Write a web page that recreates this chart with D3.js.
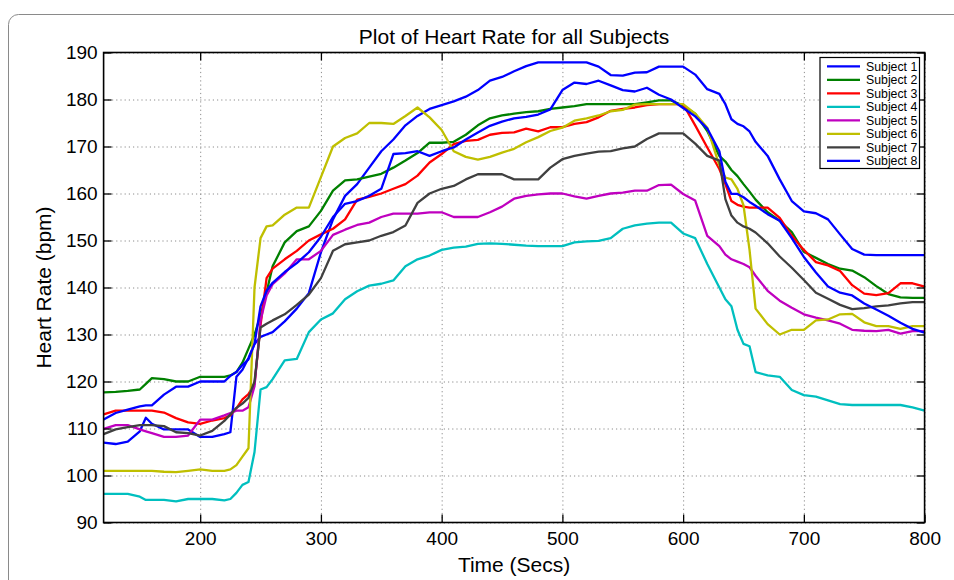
<!DOCTYPE html>
<html><head><meta charset="utf-8">
<script src="https://cdn.jsdelivr.net/npm/d3@7"></script>
<style>
body{margin:0;background:#fff}
svg{display:block}
text{font-family:"Liberation Sans",Arial,Helvetica,sans-serif;fill:#000}
</style>
</head><body>
<svg id="chart" width="954" height="580"></svg>
<script>
// ---- data (time in seconds, heart rate in bpm) ----
const times = [120,130,140,150,155,160,170,180,190,200,210,220,225,230,235,240,245,250,255,260,
  270,280,290,300,310,320,330,340,350,360,370,380,390,400,410,420,430,440,450,460,
  470,480,490,500,510,520,530,540,550,560,570,580,590,600,610,620,630,635,640,645,650,655,660,
  670,680,690,700,710,720,730,740,750,760,770,780,790,800];

const subject1 = [107,106.7,107.2,109.4,112.3,111, 109.8,109.8,109.8,108.2,108.2,108.8,
  109.2,121,122.5,125,128,129.5,130,130.5,
  132.8,135.5,138.8,147.5,154.5,159.5,162,165.5,169,171.5,
  174.5,176.5,178,178.8,179.6,180.6,182,184,184.8,186,
  187.1,187.9,187.9,187.9,187.9,187.9,187,185.2,185.1,185.7,
  185.8,187,187,187,185.3,182.2,181.2,
  179,175.8,174.8,174.3,173.2,171,
  168,163,158.4,156.2,155.8,154.5,151.3,148.2,147,146.9,
  146.9,146.9,146.9,146.9];

const subject2 = [117.7,117.8,118,118.3,119.5,120.7, 120.5,120,120,121,121,121,
  121.3,122,124,127,130,134,139,144.5,
  149.6,152,153,156.3,160.6,162.8,163,163.6,164.2,165.5,
  167,168.6,170.8,170.8,171,172.5,174.5,176,176.6,177,
  177.3,177.5,178,178.3,178.6,179,179,179,179,179,
  179.4,179.8,179.8,178.7,177,173.3,168,
  166.8,165,163.7,162,160.4,158.7,
  156,154.2,151.8,147.6,146.3,145,144,143.6,142.2,140.3,
  138.6,137.9,137.8,137.8];

const subject3 = [113,113.8,113.8,113.8,113.8,113.8, 113.4,112.2,111.3,111,111.7,112.2,
  112.8,114.3,116.2,117.3,119.5,132,142,144,
  146,147.8,150,151.3,152.5,154.5,158.7,159.3,160,161,
  162,163.8,166.6,168.4,170.5,171.2,171.4,172.5,172.9,173,
  173.8,173.2,174.1,174.1,174.8,175.2,176.2,177.6,178,178.3,
  178.8,179,179,179,174.5,169.8,165.2,
  162,158.4,157.6,157.2,157,157,
  157,154.8,151,148,145.4,144.7,143.5,140.5,138.7,138.4,
  138.8,140.9,140.9,140.2];

const subject4 = [96.1,96.1,96.1,95.5,94.8,94.8, 94.8,94.5,95,95,95,94.7,
  95,96.3,98,98.6,105,118.3,118.8,120.5,
  124.5,124.8,130.5,133.2,134.5,137.5,139.2,140.4,140.8,141.5,
  144.5,146,146.8,148,148.5,148.7,149.3,149.4,149.3,149.1,
  148.9,148.8,148.8,148.8,149.6,149.8,149.9,150.5,152.5,153.2,
  153.6,153.8,153.8,151.5,150.5,145,140,
  137.5,136,131,128,127.5,122,
  121.3,121,118.2,117.1,116.8,116,115.2,115,115,115,
  115,115,114.5,113.8];

const subject5 = [109.9,110.7,110.7,109.8,109.4,109, 108.2,108.2,108.5,111.9,111.9,112.8,
  113.3,113.8,113.8,114.5,119,133,138.3,140.7,
  143,146,146,147.8,151.2,152.3,153.3,153.8,155,155.7,
  155.7,155.7,156,156,155,155,155,156,157.2,158.9,
  159.5,159.8,160,160,159.4,158.9,159.5,160,160.2,160.6,
  160.6,161.8,161.9,159.9,158.5,151,148.8,
  147,146,145.5,145,144.3,142.5,
  139.3,137.2,135.7,134.3,133.6,133,132.3,131,130.8,130.7,
  131,130.2,130.7,130.7];

const subject6 = [101,101,101,101,101,101, 100.8,100.7,101,101.3,101,101,
  101.3,102.2,104,105.8,140,150.5,153,153.2,
  155.5,157,157,163.5,170,171.8,172.8,175,175,174.8,
  176.5,178.3,176.2,173.5,169,167.8,167.2,167.8,168.7,169.5,
  170.9,172,173.3,174,175.5,176,176.6,177.5,177.8,178.9,
  179,179,179,179,177,174,166,
  163.4,163,161,157.5,148,135.5,
  132.2,130,131,131,133,133.2,134.3,134.4,132.6,131.8,
  131.8,131.2,131.8,131.8];

const subject7 = [108.8,109.8,110.3,110.7,110.7,110.7, 110.5,109.2,109,108.5,109.5,111.6,
  113,114.4,115.3,116.5,120,131.5,132.3,133,
  134.3,136.3,138.5,142,147.8,149.2,149.6,150,151,151.8,
  153.2,158,160,161,161.6,163,164.1,164.1,164.1,163,
  163,163,165.5,167.3,168,168.5,168.9,169,169.6,170,
  171.6,172.8,172.8,172.8,170.6,168,167,
  158.8,155.3,153.8,153,152.5,151.7,
  149.4,146.6,144.2,141.6,138.9,137.6,136.3,135.4,135.6,136,
  136.2,136.6,136.9,136.9];

const subject8 = [111.9,113.3,114,114.7,114.9,114.9, 117.2,118.9,118.9,120,120,120,
  121.2,122,123.5,124.7,128,136,139.3,141,
  143.3,145.2,147.5,150.8,155,157.8,158.4,159.5,161,168.4,
  168.6,169,168,169,169.8,171.5,173,174.4,175.3,176,
  176.3,176.8,177.9,182,183.6,183.3,184,183,182,181.7,
  182.5,181,180,178.2,176.4,173.8,169,
  162.5,159.9,159.9,159.2,158.2,157.4,
  155.6,154.2,150.5,146.5,143.2,140.2,138.9,138.3,136.6,135.3,
  134,132.5,131.2,130.4];

const subjectNames = ["Subject 1","Subject 2","Subject 3","Subject 4","Subject 5","Subject 6","Subject 7","Subject 8"];
const subjectColors = ["#0000ff","#008000","#ff0000","#00bfbf","#bf00bf","#bfbf00","#404040","#0000ff"];
const xTicks = [200,300,400,500,600,700,800];
const yTicks = [90,100,110,120,130,140,150,160,170,180,190];
const titleText = "Plot of Heart Rate for all Subjects";
const xLabel = "Time (Secs)";
const yLabel = "Heart Rate (bpm)";

const seriesValues = [subject1,subject2,subject3,subject4,subject5,subject6,subject7,subject8];

// ---- layout ----
const L = 103.6, R = 924.6, T = 52.5, B = 522.5;
const svg = d3.select("#chart");

// outer frame (rounded panel)
svg.append("rect").attr("x",8.5).attr("y",14.5).attr("width",1000).attr("height",1000)
  .attr("rx",10).attr("fill","none").attr("stroke","#8a8a8a").attr("stroke-width",1);

const x = d3.scaleLinear().domain([120,800]).range([L,R]);
const y = d3.scaleLinear().domain([90,190]).range([B,T]);

// grid
const grid = svg.append("g");
grid.append("g").attr("transform",`translate(0,${B})`)
  .call(d3.axisBottom(x).tickValues(xTicks).tickSize(-(B-T)).tickFormat(""))
  .call(g=>{g.select(".domain").remove();
    g.selectAll("line").attr("stroke","#8c8c8c").attr("stroke-width",1).attr("stroke-dasharray","1.2,3");});
grid.append("g").attr("transform",`translate(${L},0)`)
  .call(d3.axisLeft(y).tickValues(yTicks).tickSize(-(R-L)).tickFormat(""))
  .call(g=>{g.select(".domain").remove();
    g.selectAll("line").attr("stroke","#8c8c8c").attr("stroke-width",1).attr("stroke-dasharray","1.2,3");});

// clip
svg.append("clipPath").attr("id","plotclip").append("rect")
  .attr("x",L).attr("y",T).attr("width",R-L).attr("height",B-T);

// lines
const line = d3.line().x((d,i)=>x(times[i])).y(d=>y(d));
const linesG = svg.append("g").attr("clip-path","url(#plotclip)");
seriesValues.forEach((vals,k)=>{
  linesG.append("path").datum(vals).attr("d",line)
    .attr("fill","none").attr("stroke",subjectColors[k]).attr("stroke-width",2.3)
    .attr("stroke-linejoin","round").attr("stroke-linecap","round");
});

// axes with inward ticks
const tickLen = 8;
const styleAxis = g=>{
  g.select(".domain").remove();
  g.selectAll("line").attr("stroke","#000").attr("stroke-width",1.3);
  g.selectAll("text").style("font-size","19px").attr("fill","#000");
};
svg.append("g").attr("transform",`translate(0,${B})`)
  .call(d3.axisBottom(x).tickValues(xTicks).tickSizeInner(-tickLen).tickSizeOuter(0).tickPadding(9))
  .call(styleAxis);
svg.append("g").attr("transform",`translate(0,${T})`)
  .call(d3.axisTop(x).tickValues(xTicks).tickSizeInner(-tickLen).tickSizeOuter(0).tickFormat(""))
  .call(styleAxis);
svg.append("g").attr("transform",`translate(${L},0)`)
  .call(d3.axisLeft(y).tickValues(yTicks).tickSizeInner(-tickLen).tickSizeOuter(0).tickPadding(6))
  .call(styleAxis);
svg.append("g").attr("transform",`translate(${R},0)`)
  .call(d3.axisRight(y).tickValues(yTicks).tickSizeInner(-tickLen).tickSizeOuter(0).tickFormat(""))
  .call(styleAxis);

// box
svg.append("rect").attr("x",L).attr("y",T).attr("width",R-L).attr("height",B-T)
  .attr("fill","none").attr("stroke","#000").attr("stroke-width",1.6);

// title & labels
svg.append("text").attr("x",(L+R)/2).attr("y",44).attr("text-anchor","middle")
  .style("font-size","21px").text(titleText);
svg.append("text").attr("x",(L+R)/2).attr("y",572).attr("text-anchor","middle")
  .style("font-size","21px").text(xLabel);
svg.append("text").attr("transform",`translate(51,${(T+B)/2}) rotate(-90)`).attr("text-anchor","middle")
  .style("font-size","21px").text(yLabel);

// legend
const lg = svg.append("g");
lg.append("rect").attr("x",820).attr("y",57.5).attr("width",99.5).attr("height",111)
  .attr("fill","#fff").attr("stroke","#000").attr("stroke-width",1.2);
subjectNames.forEach((name,k)=>{
  const yy = 66.3 + k*13.5;
  lg.append("line").attr("x1",827).attr("x2",860).attr("y1",yy).attr("y2",yy)
    .attr("stroke",subjectColors[k]).attr("stroke-width",2.3);
  lg.append("text").attr("x",866).attr("y",yy+4.3).style("font-size","12.3px").text(name);
});
</script>
</body></html>
